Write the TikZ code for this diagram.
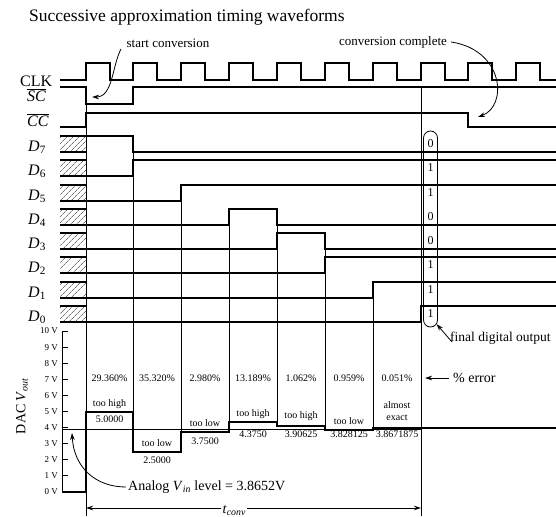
\documentclass[tikz,border=0pt]{standalone}
\usepackage{fontspec}
\setmainfont{Liberation Serif}
\usetikzlibrary{arrows.meta,patterns.meta}
\newcommand\fsz[1]{\fontsize{#1}{#1}\selectfont}
\begin{document}
\begin{tikzpicture}[x=1pt,y=-1pt,
  sig/.style={line width=1.9pt, line join=miter},
  gridln/.style={line width=0.8pt},
  lbl/.style={inner sep=0pt, anchor=base west, font=\fsz{16}},
  val/.style={inner sep=0pt, font=\fsz{10}},
  ann/.style={inner sep=0pt, font=\fsz{13}},
  tip/.style={-{Stealth[length=7pt,width=4.5pt]}, line width=0.8pt},
  hatch/.style={pattern={Lines[angle=45,distance=4pt,line width=0.7pt]}, pattern color=black!55}
]
\useasboundingbox (0,0) rectangle (556,516);

% title
\node[inner sep=0pt, anchor=base west, font=\fsz{17.5}] (title) at (29,21.5) {Successive approximation timing waveforms};

% signal labels
\node[lbl] (lclk) at (20,86.5) {CLK};
\node[lbl] (lsc) at (27,101.5) {$\overline{\mbox{\textit{SC}}}$};
\node[lbl] (lcc) at (27,126) {$\overline{\mbox{\textit{CC}}}$};
\foreach \n/\hi/\lo in {7/136/152,6/160/176,5/185/201,4/209/225,3/233/249,2/257/273,1/282/298,0/306/322}{
  \node[lbl] (ld\n) at (28,\lo-1) {\textit{D}\textsubscript{\n}};
  \fill[hatch] (60,\hi) rectangle (86,\lo);
  \draw[sig] (60,\hi) -- (86,\hi);
  \draw[sig] (60,\lo) -- (86,\lo);
}

% grid lines
\draw[gridln] (86,87) -- (86,516);
\draw[gridln] (133,136) -- (133,452);
\draw[gridln] (181,185) -- (181,452);
\draw[gridln] (229,209) -- (229,432);
\draw[gridln] (277,209) -- (277,426);
\draw[gridln] (325,233) -- (325,430);
\draw[gridln] (373,282) -- (373,430);
\draw[gridln] (421,87) -- (421,516);

% CLK
\draw[sig] (60,80) \foreach \r/\f in {86/110,133/157,181/205,229/253,277/301,325/349,373/397,421/445,468/492,516/540}{ -- (\r,80) -- (\r,63) -- (\f,63) -- (\f,80) } -- (556,80);
% SC
\draw[sig] (60,87) -- (86,87) -- (86,104) -- (133,104) -- (133,87) -- (556,87);
% CC
\draw[sig] (60,127) -- (86,127) -- (86,113) -- (468,113) -- (468,127) -- (556,127);

% data bits
\draw[sig] (86,136) -- (133,136) -- (133,152) -- (556,152);
\draw[sig] (86,176) -- (133,176) -- (133,160) -- (556,160);
\draw[sig] (86,201) -- (181,201) -- (181,185) -- (556,185);
\draw[sig] (86,225) -- (229,225) -- (229,209) -- (277,209) -- (277,225) -- (556,225);
\draw[sig] (86,249) -- (277,249) -- (277,233) -- (325,233) -- (325,249) -- (556,249);
\draw[sig] (86,273) -- (325,273) -- (325,257) -- (556,257);
\draw[sig] (86,298) -- (373,298) -- (373,282) -- (556,282);
\draw[sig] (86,322) -- (421,322) -- (421,306) -- (556,306);

% final output box
\node[draw, line width=0.8pt, rounded corners=7pt, minimum width=14pt, minimum height=196pt, inner sep=0pt] (fbox) at (430.5,229) {};
\foreach \k/\b/\y in {0/0/144,1/1/168,2/1/193,3/0/217,4/0/241,5/1/265,6/1/290,7/1/314}{
  \node[inner sep=0pt, font=\fsz{12}] (bit\k) at (430.5,\y) {\b};
}
\node[ann, anchor=west, font=\fsz{13.5}] (fdo) at (450,338) {final digital output};
\coordinate (fdotip) at (436.5,324);
\draw[tip] ([shift={(2pt,-4pt)}]fdo.west) -- (fdotip);

% annotations at top
\node[ann] (startc) at (168,43) {start conversion};
\coordinate (sctip) at (92,97);
\draw[tip] ([xshift=-47pt,yshift=-6pt]startc.center) .. controls (112,66) and (113,97) .. (sctip);
\node[ann] (convc) at (393,42) {conversion complete};
\coordinate (cctip) at (478,117);
\draw[tip] ([xshift=4pt]convc.east) .. controls (504,50) and (508,106) .. (cctip);

% DAC axis
\draw[line width=1pt] (62,331) -- (62,492);
\foreach \v in {0,...,10}{
  \draw[line width=1pt] (62,{492-16.1*\v}) -- (68,{492-16.1*\v});
  \node[inner sep=0pt, anchor=east, font=\fsz{9}] (tk\v) at (58,{492-16.1*\v}) {\v{} V};
}
\node[rotate=90, inner sep=0pt, font=\fsz{14}] (dac) at (22,406) {DAC \textit{V}\textsubscript{\textit{out}}};

% Vin level
\draw[gridln] (62,429) -- (421,429);

% DAC waveform
\draw[sig] (62,492) -- (86,492) -- (86,412) -- (133,412) -- (133,452) -- (181,452) -- (181,432) -- (229,432) -- (229,422) -- (277,422) -- (277,426) -- (325,426) -- (325,430) -- (373,430) -- (373,428) -- (556,428);

% percent errors
\foreach \x/\t [count=\i] in {109.5/29.360\%,157/35.320\%,205/2.980\%,253/13.189\%,301/1.062\%,349/0.959\%,397/0.051\%}{
  \node[val] (pc\i) at (\x,378) {\t};
}
\node[ann, anchor=west, font=\fsz{14}] (perr) at (453,378) {\% error};
\coordinate (perrtip) at (425,378);
\draw[tip] ([xshift=-4pt]perr.west) -- (perrtip);

% segment labels
\node[val] (h1) at (109.5,404) {too high};
\node[val] (v1) at (109.5,419) {5.0000};
\node[val] (h2) at (157,443) {too low};
\node[val] (v2) at (157,460) {2.5000};
\node[val] (h3) at (205,423) {too low};
\node[val] (v3) at (205,441) {3.7500};
\node[val] (h4) at (253,414) {too high};
\node[val] (v4) at (253,434) {4.3750};
\node[val] (h5) at (301,416) {too high};
\node[val] (v5) at (301,434) {3.90625};
\node[val] (h6) at (349,421) {too low};
\node[val] (v6) at (349,434) {3.828125};
\node[val] (h7a) at (397,405) {almost};
\node[val] (h7b) at (397,418) {exact};
\node[val] (v7) at (397,434) {3.8671875};

% analog level annotation
\node[inner sep=0pt, anchor=west, font=\fsz{14}] (vin) at (128,487) {Analog \textit{V}\textsubscript{\textit{in}} level = 3.8652V};
\coordinate (vintip) at (72,433);
\draw[tip] ([xshift=-2pt]vin.west) .. controls (96,487) and (74,468) .. (vintip);

% conversion time
\coordinate (tl) at (86,508);
\coordinate (tr) at (421,508);
\draw[{Stealth[length=7pt,width=4.5pt]}-{Stealth[length=7pt,width=4.5pt]}, line width=0.8pt] (tl) -- (tr);
\node[fill=white, inner sep=1.5pt, anchor=base west, font=\fsz{14}] (tconv) at (221,513) {\textit{t}\textsubscript{\textit{conv}}};
\end{tikzpicture}
\end{document}
